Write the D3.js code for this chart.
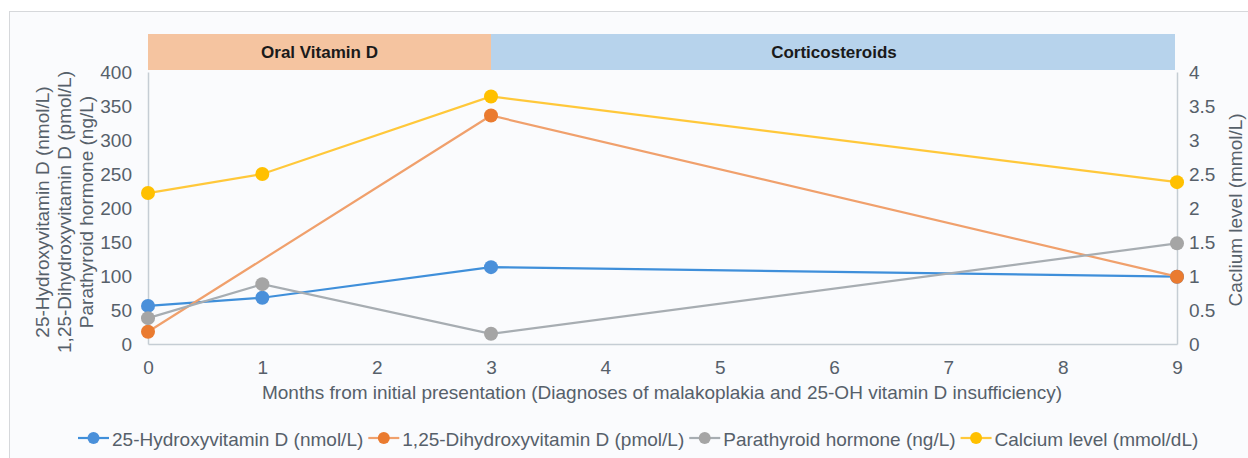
<!DOCTYPE html>
<html>
<head>
<meta charset="utf-8">
<script src="https://cdn.jsdelivr.net/npm/d3@7"></script>
<style>
  html, body { margin: 0; padding: 0; background: #ffffff; }
  svg { display: block; font-family: "Liberation Sans", Arial, sans-serif; }
</style>
</head>
<body>
<svg id="chart" width="1248" height="458"></svg>
<script>
// Months from initial presentation
const months = [0, 1, 3, 9];

// Left-axis series
const hydroxyD = [56, 68, 113, 99];        // 25-Hydroxyvitamin D (nmol/L)
const dihydroxyD = [18, null, 336, 99];     // 1,25-Dihydroxyvitamin D (pmol/L)
const pth = [38, 88, 15, 148];              // Parathyroid hormone (ng/L)

// Right-axis series
const calcium = [2.22, 2.5, 3.64, 2.38];    // Calcium level (mmol/dL)

// Axis ticks
const leftTicks = [0, 50, 100, 150, 200, 250, 300, 350, 400];
const rightTicks = [0, 0.5, 1, 1.5, 2, 2.5, 3, 3.5, 4];
const xTicks = [0, 1, 2, 3, 4, 5, 6, 7, 8, 9];

// Treatment phases (start month, end month)
const phaseNames = ["Oral Vitamin D", "Corticosteroids"];
const phaseStart = [0, 3];
const phaseEnd = [3, 9];

const seriesNames = [
  "25-Hydroxyvitamin D (nmol/L)",
  "1,25-Dihydroxyvitamin D (pmol/L)",
  "Parathyroid hormone (ng/L)",
  "Calcium level (mmol/dL)"
];

const lineColors = ["#3f8fda", "#f0a06c", "#a7adb2", "#ffc83a"];
const markerColors = ["#4a90da", "#ea7b30", "#a5a5a5", "#ffc000"];
const phaseColors = ["#f5c4a0", "#b7d3ec"];

const svg = d3.select("#chart");
const textColor = "#56606a";

// Panel frame
svg.append("rect")
  .attr("x", 9.5).attr("y", 11.5)
  .attr("width", 1300).attr("height", 500)
  .attr("fill", "#fafbfd")
  .attr("stroke", "#d6d8db");

const x = d3.scaleLinear().domain([0, 9]).range([148, 1177]);
const yL = d3.scaleLinear().domain([0, 400]).range([344, 72]);
const yR = d3.scaleLinear().domain([0, 4]).range([344, 72]);

// Phase bands above the plot
const phases = phaseNames.map((n, i) => ({ name: n, s: phaseStart[i], e: phaseEnd[i], c: phaseColors[i] }));
const pg = svg.append("g");
pg.selectAll("rect").data(phases).join("rect")
  .attr("x", d => x(d.s))
  .attr("width", (d, i) => x(d.e) - x(d.s) - (i === phases.length - 1 ? 2 : 0))
  .attr("y", 34).attr("height", 36)
  .attr("fill", d => d.c);
pg.selectAll("text").data(phases).join("text")
  .attr("x", d => (x(d.s) + x(d.e)) / 2)
  .attr("y", 58)
  .attr("text-anchor", "middle")
  .attr("font-size", 17).attr("font-weight", "bold")
  .attr("fill", "#1a1a1a")
  .text(d => d.name);

// Axes
const axisColor = "#c5cdd4";
const fmt = d3.format("~g");

const gL = svg.append("g").attr("transform", `translate(${x(0)},0)`)
  .call(d3.axisLeft(yL).tickValues(leftTicks).tickSize(0).tickPadding(16).tickFormat(fmt));
const gR = svg.append("g").attr("transform", `translate(${x(9)},0)`)
  .call(d3.axisRight(yR).tickValues(rightTicks).tickSize(0).tickPadding(12).tickFormat(fmt));
const gX = svg.append("g").attr("transform", `translate(0,${yL(0)})`)
  .call(d3.axisBottom(x).tickValues(xTicks).tickSize(0).tickPadding(17).tickFormat(fmt));

[gL, gR, gX].forEach(g => {
  g.select(".domain").attr("stroke", axisColor).attr("stroke-width", 1.5);
  g.selectAll("text").attr("font-size", 19).attr("fill", textColor)
    .attr("font-family", "Liberation Sans, Arial, sans-serif");
});

// Axis titles
const leftTitle = [
  "25-Hydroxyvitamin D (nmol/L)",
  "1,25-Dihydroxyvitamin D (pmol/L)",
  "Parathyroid hormone (ng/L)"
];
svg.append("g").selectAll("text").data(leftTitle).join("text")
  .attr("transform", (d, i) => `translate(${49 + i * 22},212) rotate(-90)`)
  .attr("text-anchor", "middle")
  .attr("font-size", 19).attr("fill", textColor)
  .text(d => d);

svg.append("text")
  .attr("transform", "translate(1242,210) rotate(-90)")
  .attr("text-anchor", "middle")
  .attr("font-size", 19).attr("fill", textColor)
  .text("Caclium level (mmol/L)");

svg.append("text")
  .attr("x", 662).attr("y", 399)
  .attr("text-anchor", "middle")
  .attr("font-size", 19).attr("fill", textColor)
  .text("Months from initial presentation (Diagnoses of malakoplakia and 25-OH vitamin D insufficiency)");

// Series
const series = [
  { vals: hydroxyD, y: yL },
  { vals: dihydroxyD, y: yL },
  { vals: pth, y: yL },
  { vals: calcium, y: yR }
].map((s, i) => ({
  ...s,
  i,
  pts: months.map((m, j) => ({ m, v: s.vals[j] })).filter(p => p.v !== null)
}));

const plot = svg.append("g");
series.forEach(s => {
  const line = d3.line().x(p => x(p.m)).y(p => s.y(p.v));
  plot.append("path")
    .attr("d", line(s.pts))
    .attr("fill", "none")
    .attr("stroke", lineColors[s.i])
    .attr("stroke-width", 2.2);
  plot.selectAll(null).data(s.pts).join("circle")
    .attr("cx", p => x(p.m))
    .attr("cy", p => s.y(p.v))
    .attr("r", 7)
    .attr("fill", markerColors[s.i]);
});

// Legend
const lg = svg.append("g");
let lx = 78;
const ly = 438;
seriesNames.forEach((name, i) => {
  lg.append("line")
    .attr("x1", lx).attr("x2", lx + 31)
    .attr("y1", ly).attr("y2", ly)
    .attr("stroke", lineColors[i]).attr("stroke-width", 2.2);
  lg.append("circle")
    .attr("cx", lx + 15.5).attr("cy", ly).attr("r", 6)
    .attr("fill", markerColors[i]);
  const t = lg.append("text")
    .attr("x", lx + 34).attr("y", ly + 8)
    .attr("font-size", 19).attr("fill", textColor)
    .text(name);
  lx = lx + 34 + t.node().getComputedTextLength() + 5;
});
</script>
</body>
</html>
